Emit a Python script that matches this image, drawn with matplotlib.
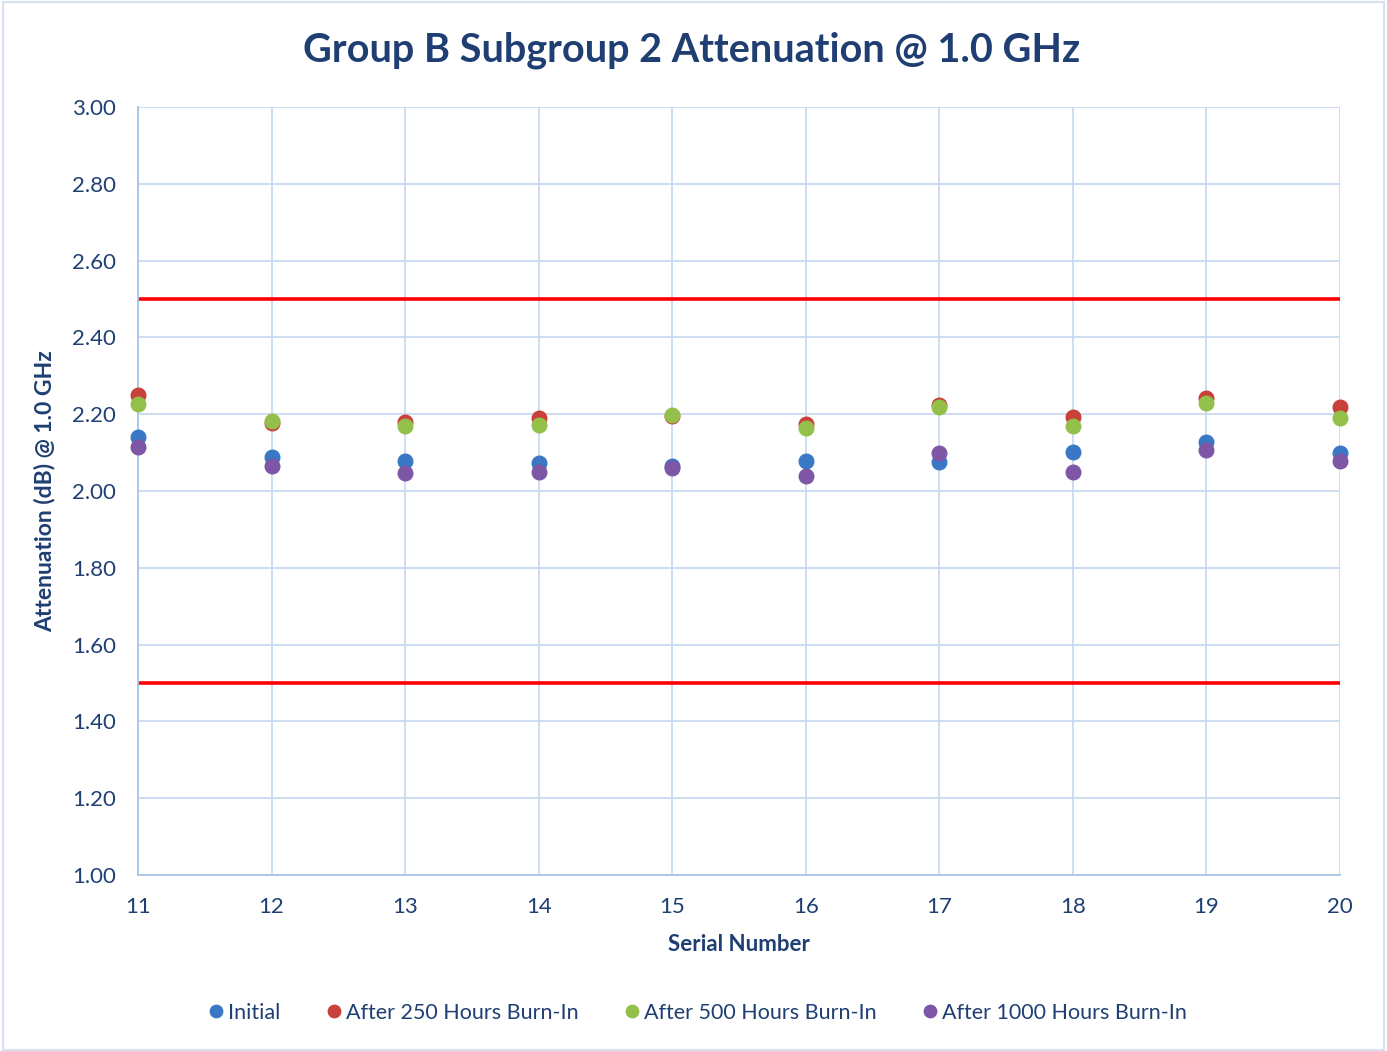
import matplotlib
matplotlib.use("Agg")
import matplotlib.pyplot as plt
from matplotlib.patches import Rectangle

serial = [11, 12, 13, 14, 15, 16, 17, 18, 19, 20]
initial = [2.141, 2.089, 2.078, 2.073, 2.066, 2.079, 2.076, 2.101, 2.127, 2.100]
after_250 = [2.250, 2.177, 2.180, 2.189, 2.195, 2.175, 2.224, 2.193, 2.242, 2.219]
after_500 = [2.227, 2.182, 2.169, 2.172, 2.198, 2.164, 2.219, 2.169, 2.229, 2.190]
after_1000 = [2.115, 2.065, 2.047, 2.050, 2.060, 2.039, 2.099, 2.050, 2.107, 2.078]
upper_limit = 2.50
lower_limit = 1.50
yticks = [1.00, 1.20, 1.40, 1.60, 1.80, 2.00, 2.20, 2.40, 2.60, 2.80, 3.00]

series = [
    ("Initial", initial, "#3A78C6"),
    ("After 250 Hours Burn-In", after_250, "#C8413A"),
    ("After 500 Hours Burn-In", after_500, "#92C04A"),
    ("After 1000 Hours Burn-In", after_1000, "#7E56A6"),
]

plt.rcParams['font.family'] = ['Lato', 'DejaVu Sans']
navy = "#1F3F73"
gridc = "#C9DAF0"

fig = plt.figure(figsize=(13.87, 10.51), dpi=100)
fig.patches.append(Rectangle((0.002, 0.001), 0.996, 0.997, transform=fig.transFigure,
                             fill=False, edgecolor="#D6E2F2", lw=1.5))
W, H = 1387, 1051
ax = fig.add_axes([138 / W, 1 - 875 / H, (1340 - 138) / W, (875 - 107) / H])

ax.set_xlim(11, 20)
ax.set_ylim(1.0, 3.0)
ax.set_yticks(yticks)
ax.set_yticklabels([f"{v:.2f}" for v in yticks])
ax.set_xticks(serial)
ax.set_xticklabels([str(s) for s in serial])
ax.grid(True, color=gridc, lw=1.3)
ax.set_axisbelow(True)
for s in ["top", "right"]:
    ax.spines[s].set_visible(False)
for s in ["left", "bottom"]:
    ax.spines[s].set_color("#A9C4E8")
    ax.spines[s].set_linewidth(1.3)
ax.tick_params(axis="y", length=0, colors=navy, labelsize=16, pad=16)
ax.tick_params(axis="x", length=0, colors=navy, labelsize=16, pad=16)

ax.axhline(upper_limit, color="#FF0000", lw=2.6, zorder=2)
ax.axhline(lower_limit, color="#FF0000", lw=2.6, zorder=2)

for name, vals, col in series:
    ax.plot(serial, vals, linestyle="none", marker="o", ms=10.5, color=col,
            markeredgecolor=col, label=name, zorder=3, clip_on=False)

fig.text(692 / W, 1 - 50 / H, "Group B Subgroup 2 Attenuation @ 1.0 GHz",
         ha="center", va="center", fontsize=28.5, fontweight="bold", color=navy)
ax.set_xlabel("Serial Number", fontsize=16, fontweight="bold", color=navy, labelpad=12)
ax.set_ylabel("Attenuation (dB) @ 1.0 GHz", fontsize=16.5, fontweight="bold", color=navy, labelpad=12)

leg = fig.legend(loc="center", bbox_to_anchor=(696 / W, 1 - 1013 / H), ncol=4, frameon=False,
                 fontsize=15.5, handletextpad=0.05, columnspacing=2.0, markerscale=0.85,
                 handlelength=1.0)
for t in leg.get_texts():
    t.set_color(navy)

fig.savefig("out.png", dpi=100)
